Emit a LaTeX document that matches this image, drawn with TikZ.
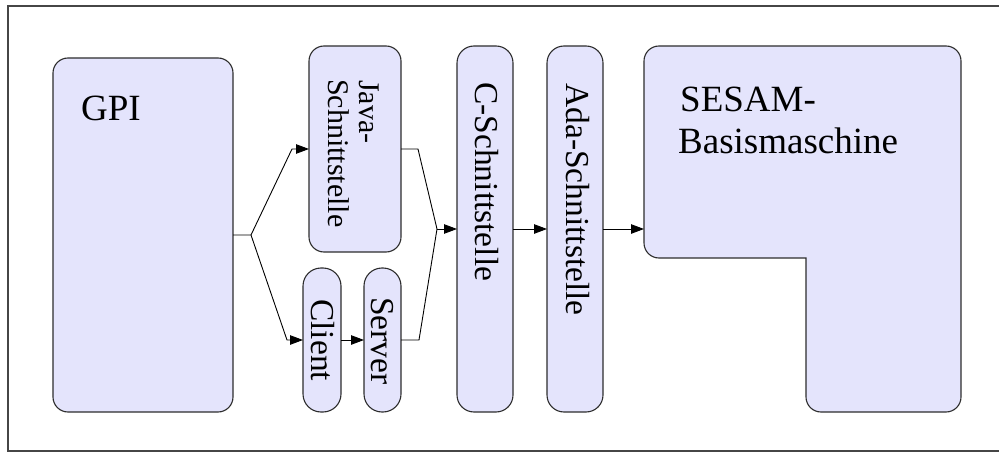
\documentclass[tikz,border=0pt]{standalone}
\usepackage{fontspec}
\setmainfont{Liberation Serif}
\usetikzlibrary{arrows.meta}
\definecolor{boxfill}{RGB}{228,228,252}
\definecolor{boxline}{RGB}{45,45,45}
\definecolor{frameline}{RGB}{70,70,70}
\begin{document}
\begin{tikzpicture}[x=1pt,y=-1pt,
  box/.style={draw=boxline, fill=boxfill, line width=1.1pt,
    rounded corners=#1, inner sep=0pt, outer sep=0pt},
  conn/.style={draw=black, line width=0.9pt},
  arr/.style={conn, -{Triangle[length=13pt,width=9.5pt]}},
  bigtext/.style={inner sep=0pt, anchor=base west,
    font=\fontsize{37}{42}\selectfont},
  vtext/.style={inner sep=0pt, anchor=base west, rotate=-90,
    font=\fontsize{33.5}{38}\selectfont},
  vsmall/.style={inner sep=0pt, anchor=base west, rotate=-90,
    font=\fontsize{30}{30}\selectfont}]
\useasboundingbox (0,0) rectangle (999,452);

% outer frame
\draw[frameline, line width=1.2pt] (8,6) rectangle (1012,451);

% blocks
\node[box=15pt, minimum width=180pt, minimum height=354pt] (gpi) at (143,235) {};
\node[box=15pt, minimum width=92pt, minimum height=206pt] (java) at (355,149) {};
\node[box=18pt, minimum width=38pt, minimum height=144pt] (client) at (322,340) {};
\node[box=18pt, minimum width=37pt, minimum height=144pt] (server) at (382.5,340) {};
\node[box=17pt, minimum width=56pt, minimum height=366pt] (cif) at (485,229) {};
\node[box=17pt, minimum width=56pt, minimum height=366pt] (adaif) at (575,229) {};

% L-shaped base machine, the inner corner stays sharp
\draw[draw=boxline, fill=boxfill, line width=1.1pt, rounded corners=15pt]
  (760,46) -- (961,46) -- (961,412) -- (806,412)
  [sharp corners] -- (806,258)
  [rounded corners=15pt] -- (644,258) -- (644,46) -- cycle;
\coordinate (sesamin) at (644,229);

% labels
\node[bigtext] (gpitext) at (81,121) {GPI};
\node[bigtext] (sesamtext1) at (680,111) {SESAM-};
\node[bigtext] (sesamtext2) at (678,153) {Basismaschine};
\node[vsmall] (javatext1) at (359,80) {Java-};
\node[vsmall] (javatext2) at (328,79) {Schnittstelle};
\node[vtext] (clienttext) at (311,299) {Client};
\node[vtext] (servertext) at (371,297) {Server};
\node[vtext] (ctext) at (475,82) {C-Schnittstelle};
\node[vtext] (adatext) at (566,83) {Ada-Schnittstelle};

% connector bends
\coordinate (split) at (251,235);
\coordinate (up) at (292,149);
\coordinate (down) at (287,340);
\coordinate (jout) at (418,149);
\coordinate (sout) at (419,340);
\coordinate (join) at (437,229);

% connectors
\draw[arr] (gpi.east) -- (split) -- (up) -- (java.west);
\draw[arr] (split) -- (down) -- (client.west);
\draw[arr] (client.east) -- (server.west);
\draw[conn] (java.east) -- (jout) -- (join);
\draw[conn] (server.east) -- (sout) -- (join);
\draw[arr] (join) -- (cif.west);
\draw[arr] (cif.east) -- (adaif.west);
\draw[arr] (adaif.east) -- (sesamin);
\end{tikzpicture}
\end{document}
